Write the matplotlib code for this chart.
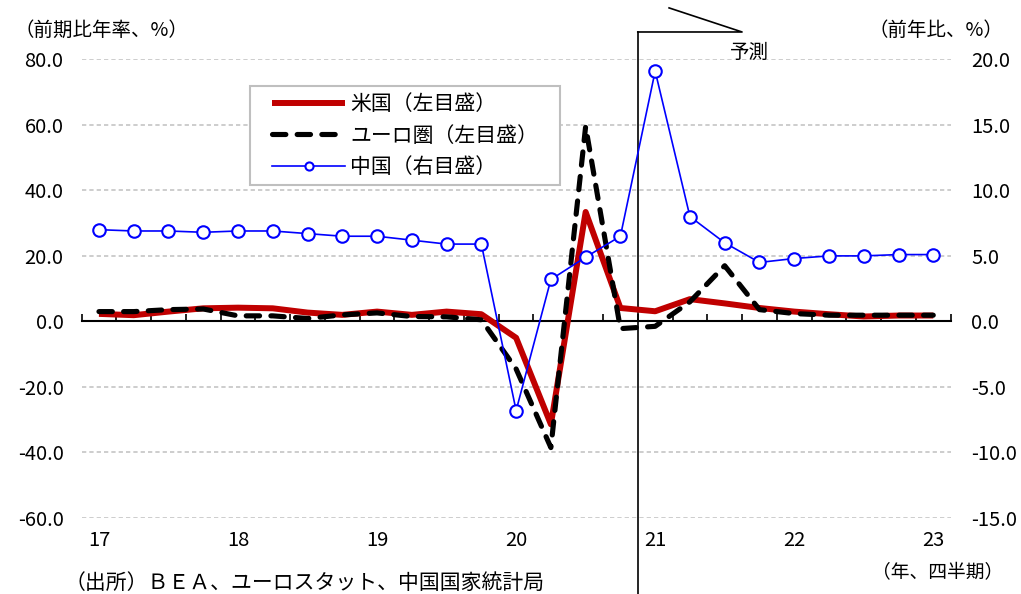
import numpy as np
import matplotlib.pyplot as plt
from matplotlib.transforms import blended_transform_factory
from matplotlib.legend_handler import HandlerLine2D

plt.rcParams['font.family'] = ['Noto Sans CJK JP', 'DejaVu Sans']

# 実質GDP成長率（2017年1-3月期～2023年1-3月期、21年以降は予測）
years = ['17', '18', '19', '20', '21', '22', '23']
us = [2.3, 1.9, 3.0, 4.0,
      4.2, 4.0, 2.7, 2.0,
      3.0, 2.0, 3.0, 2.2,
      -5.0, -31.4, 33.4, 4.1,
      3.1, 6.8, 5.5, 4.1,
      3.0, 2.2, 1.5, 1.8,
      1.8]
euro = [3.0, 3.0, 3.6, 3.8,
        1.7, 1.7, 0.9, 2.0,
        2.6, 1.5, 1.4, 0.5,
        -14.5, -38.5, 59.5, -2.2,
        -1.5, 6.0, 17.0, 3.6,
        2.4, 1.9, 1.9, 1.9,
        1.9]
china = [7.0, 6.9, 6.9, 6.8,
         6.9, 6.9, 6.7, 6.5,
         6.5, 6.2, 5.9, 5.9,
         -6.8, 3.2, 4.9, 6.5,
         19.1, 8.0, 6.0, 4.5,
         4.8, 5.0, 5.0, 5.1,
         5.1]
left_ticks = np.arange(-60, 81, 20)
right_ticks = np.arange(-15, 21, 5)

x = np.arange(len(us))


# 凡例の線を少し右に寄せて描く
class ShiftedLine(HandlerLine2D):
    def create_artists(self, legend, orig_handle, xdescent, ydescent,
                       width, height, fontsize, trans):
        off = 0.7 * fontsize
        return super().create_artists(legend, orig_handle, xdescent - off,
                                      ydescent, width - off, height,
                                      fontsize, trans)


fig = plt.figure(figsize=(10.21, 5.94), dpi=100)
ax = fig.add_axes([0.0799, 0.1279, 0.8512, 0.7723])
ax2 = ax.twinx()

ax.set_xlim(-0.5, len(us) - 0.5)
ax.set_ylim(-60, 80)
ax2.set_ylim(-15, 20)

ax.set_yticks(left_ticks)
ax.set_yticklabels([f'{v:.1f}' for v in left_ticks])
ax2.set_yticks(right_ticks)
ax2.set_yticklabels([f'{v:.1f}' for v in right_ticks])
ax.tick_params(axis='y', length=0, pad=13, labelsize=14.5)
ax2.tick_params(axis='y', length=0, pad=15, labelsize=14.5)

ax.yaxis.grid(True, linestyle=(0, (2.8, 2)), color='#c0c0c0', lw=1.1)
ax.set_axisbelow(True)

for a in (ax, ax2):
    for s in a.spines.values():
        s.set_visible(False)
ax.spines['bottom'].set_visible(True)
ax.spines['bottom'].set_position(('data', 0))
ax.spines['bottom'].set_linewidth(1.5)
ax.set_xticks(np.arange(-0.5, len(us), 1))
ax.set_xticklabels([])
ax.tick_params(axis='x', direction='in', length=5, width=1.2)

l_us, = ax.plot(x, us, color='#c00000', lw=4.3, solid_capstyle='butt',
                label='米国（左目盛）', zorder=3)
l_eu, = ax.plot(x, euro, color='black', lw=3.7, linestyle=(0, (2.6, 2.2)),
                dash_capstyle='round', label='ユーロ圏（左目盛）', zorder=4)
l_cn, = ax2.plot(x, china, color='#0000ff', lw=1.2, marker='o', ms=9,
                 mfc='white', mec='#0000ff', mew=1.5, label='中国（右目盛）')

leg = ax2.legend(handles=[l_us, l_eu, l_cn], loc='upper left',
                 bbox_to_anchor=(0.194, 0.942, 0.357, 0), mode='expand',
                 borderaxespad=0, fontsize=15, handlelength=4.2,
                 handletextpad=0.25, labelspacing=0.45, fancybox=False,
                 framealpha=1, edgecolor='#bfbfbf', borderpad=0.35,
                 markerscale=0.65,
                 handler_map={l_us: ShiftedLine(), l_eu: ShiftedLine(),
                              l_cn: ShiftedLine()})
leg.get_frame().set_linewidth(1.5)

# 年の目盛ラベル（各年1-3月期の位置）
trans = blended_transform_factory(ax.transData, ax.transAxes)
for i, yr in enumerate(years):
    ax.text(i * 4, -0.048, yr, transform=trans, ha='center', va='center',
            fontsize=14.5)

# 予測期間の区切り線
ax.plot([15.5, 15.5], [-0.166, 1.0595], transform=trans, color='black',
        lw=1.2, clip_on=False)
ax.plot([15.5, 18.5, 16.4], [1.0595, 1.0595, 1.112], transform=trans,
        color='black', lw=1.2, clip_on=False)
ax.text(18.7, 1.015, '予測', transform=trans, ha='center', va='center',
        fontsize=14)

fig.text(15 / 1021, 1 - 30 / 594, '（前期比年率、%）', ha='left', va='center',
         fontsize=14)
fig.text(1003 / 1021, 1 - 30 / 594, '（前年比、%）', ha='right', va='center',
         fontsize=14)
fig.text(1003 / 1021, 1 - 573 / 594, '（年、四半期）', ha='right', va='center',
         fontsize=13.5)
fig.text(65 / 1021, 1 - 583 / 594, '（出所）ＢＥＡ、ユーロスタット、中国国家統計局',
         ha='left', va='center', fontsize=15)

fig.savefig('out.png', dpi=100)
